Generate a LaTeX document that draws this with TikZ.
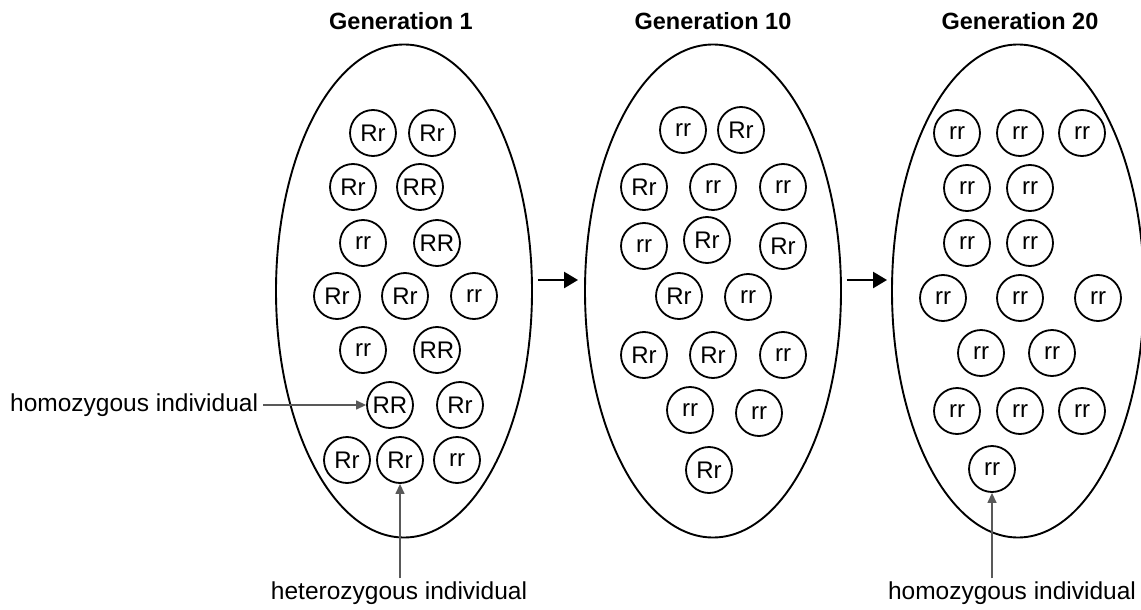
\documentclass[tikz,border=0pt]{standalone}
\usepackage{fontspec}
\setmainfont{Liberation Sans}
\usetikzlibrary{shapes.geometric,arrows.meta}
\begin{document}
\begin{tikzpicture}[x=1pt,y=-1pt,
  pop/.style={ellipse,draw,line width=1.9pt,minimum width=256pt,minimum height=493pt,inner sep=0pt},
  ind/.style={circle,draw,line width=1.8pt,minimum size=46pt,inner sep=0pt,font=\fontsize{24}{27}\selectfont},
  title/.style={font=\fontsize{23.5}{28}\selectfont\bfseries},
  lab/.style={font=\fontsize{24.5}{28}\selectfont,inner sep=0pt},
  gen/.style={-{Triangle[length=14pt,width=16pt]},line width=2.3pt},
  pointer/.style={-{Triangle[length=10pt,width=9pt]},line width=1.3pt,draw=black!65}
]
\useasboundingbox (0,0) rectangle (1141,610);
% populations
\node[pop] (e1) at (404,291) {};
\node[pop] (e2) at (713,291) {};
\node[pop,minimum width=252pt] (e3) at (1018,291) {};
% titles
\node[title] (t1) at (401,21) {Generation 1};
\node[title] (t2) at (713,21) {Generation 10};
\node[title] (t3) at (1020,21) {Generation 20};
% generation 1
\node[ind] (a1) at (373,133) {Rr};
\node[ind] (a2) at (432,133) {Rr};
\node[ind] (a3) at (353,187) {Rr};
\node[ind] (a4) at (420,187) {RR};
\node[ind] (a5) at (363,243) {rr};
\node[ind] (a6) at (437,243) {RR};
\node[ind] (a7) at (337,296) {Rr};
\node[ind] (a8) at (405,296) {Rr};
\node[ind] (a9) at (474,296) {rr};
\node[ind] (a10) at (363,350) {rr};
\node[ind] (a11) at (437,350) {RR};
\node[ind] (a12) at (390,405) {RR};
\node[ind] (a13) at (460,405) {Rr};
\node[ind] (a14) at (347,460) {Rr};
\node[ind] (a15) at (400,460) {Rr};
\node[ind] (a16) at (457,460) {rr};
% generation 10
\node[ind] (b1) at (683,130) {rr};
\node[ind] (b2) at (741,130) {Rr};
\node[ind] (b3) at (644,187) {Rr};
\node[ind] (b4) at (713,187) {rr};
\node[ind] (b5) at (783,187) {rr};
\node[ind] (b6) at (644,246) {rr};
\node[ind] (b7) at (707,240) {Rr};
\node[ind] (b8) at (783,246) {Rr};
\node[ind] (b9) at (679,296) {Rr};
\node[ind] (b10) at (748,297) {rr};
\node[ind] (b11) at (644,355) {Rr};
\node[ind] (b12) at (713,355) {Rr};
\node[ind] (b13) at (783,355) {rr};
\node[ind] (b14) at (690,410) {rr};
\node[ind] (b15) at (759,413) {rr};
\node[ind] (b16) at (709,470) {Rr};
% generation 20
\node[ind] (c1) at (957,133) {rr};
\node[ind] (c2) at (1020,133) {rr};
\node[ind] (c3) at (1082,133) {rr};
\node[ind] (c4) at (967,188) {rr};
\node[ind] (c5) at (1030,188) {rr};
\node[ind] (c6) at (967,243) {rr};
\node[ind] (c7) at (1030,243) {rr};
\node[ind] (c8) at (943,298) {rr};
\node[ind] (c9) at (1020,298) {rr};
\node[ind] (c10) at (1098,298) {rr};
\node[ind] (c11) at (981,353) {rr};
\node[ind] (c12) at (1052,353) {rr};
\node[ind] (c13) at (957,411) {rr};
\node[ind] (c14) at (1020,411) {rr};
\node[ind] (c15) at (1082,411) {rr};
\node[ind] (c16) at (992,469) {rr};
% arrows between generations
\draw[gen,shorten <=5pt,shorten >=6pt] (e1.east |- 0,280) -- (e2.west |- 0,280);
\draw[gen,shorten <=5pt,shorten >=4pt] (e2.east |- 0,280) -- (e3.west |- 0,280);
% labels
\node[lab,anchor=west] (l1) at (10,405) {homozygous individual};
\node[lab] (l2) at (399,593) {heterozygous individual};
\node[lab] (l3) at (1012,593) {homozygous individual};
\draw[pointer,shorten <=5pt] (l1.east) -- (a12.west);
\draw[pointer] (l2.north -| a15.south) ++(0,-3) -- (a15.south);
\draw[pointer] (l3.north -| c16.south) ++(0,-3) -- (c16.south);
\end{tikzpicture}
\end{document}
